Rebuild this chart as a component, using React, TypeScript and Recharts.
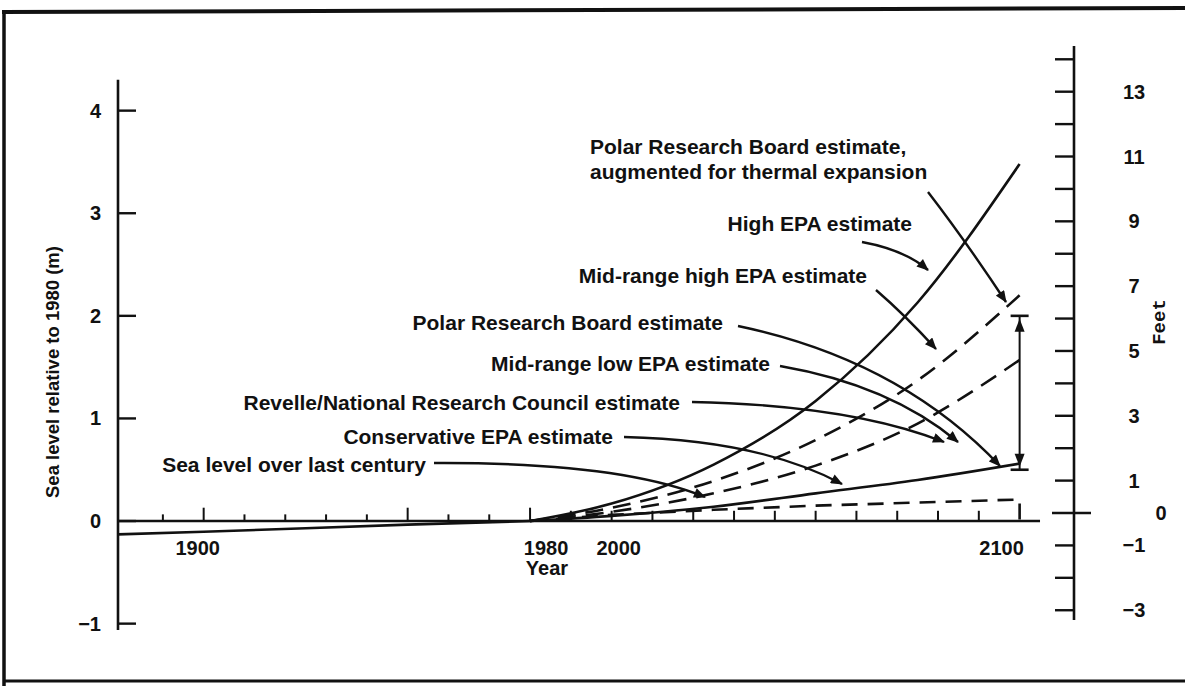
import { LineChart, Line, XAxis, YAxis, ReferenceLine } from "recharts";

// projections of sea level rise relative to 1980 (m)
const years = [1980, 2000, 2025, 2050, 2075, 2100];
const highEPA = [0, 0.17, 0.55, 1.17, 2.13, 3.48];
const midHighEPA = [0, 0.13, 0.39, 0.79, 1.37, 2.2];
const midLowEPA = [0, 0.09, 0.27, 0.54, 0.95, 1.57];
const conservativeEPA = [0, 0.05, 0.14, 0.27, 0.4, 0.56];

// historical trend carried forward (drops back to the axis at 2100)
const trendYears = [1980, 2000, 2025, 2050, 2075, 2100, 2100];
const trendLevel = [0, 0.06, 0.11, 0.15, 0.18, 0.21, 0];

// sea level over the last century
const histYears = [1879, 1900, 1925, 1950, 1980];
const histLevel = [-0.13, -0.105, -0.07, -0.035, 0];

// Polar Research Board range at 2100
const prbYears = [2100, 2100];
const prbRange = [0.5, 2.0];

const meterTicks = [-1, 0, 1, 2, 3, 4];
const feetTicks = [-3, -2, -1, 0, 1, 2, 3, 4, 5, 6, 7, 8, 9, 10, 11, 12, 13, 14];
const feetLabels = [13, 11, 9, 7, 5, 3, 1, 0, -1, -3];
const decadeTicks = [1890, 1900, 1910, 1920, 1930, 1940, 1950, 1960, 1970, 1980, 1990, 2000, 2010, 2020, 2030, 2040, 2050, 2060, 2070, 2080, 2090];
const longTicks = [1900, 1950, 1980];
const yearLabels = [1900, 1980, 2000, 2100];

const X_MIN = 1879;
const X_MAX = 2113.33;
const M_DOMAIN = [-1.062, 4.63];
const FT_DOMAIN = [-3.61, 14.41];

const INK = "#111";
const FONT = "'Liberation Sans', Arial, sans-serif";
const labelShift: Record<number, number> = { 1900: -6, 1980: 16, 2000: 7, 2100: -18 };

const pts = (xs: number[], vs: number[]) => xs.map((x, i) => ({ year: x, v: vs[i] }));

const fmt = (v: number) => (v < 0 ? `\u2212${Math.abs(v)}` : String(v));

function MeterTick(p: any) {
  const { x, y, payload } = p;
  return (
    <g>
      <line x1={x} x2={x + 18} y1={y} y2={y} stroke={INK} strokeWidth={2.4} />
      <text x={x - 17} y={y} textAnchor="end" dominantBaseline="central" fontFamily={FONT} fontWeight={700} fontSize={20} fill={INK}>
        {fmt(payload.value)}
      </text>
    </g>
  );
}

function FeetTick(p: any) {
  const { x, y, payload } = p;
  const v = payload.value;
  const zero = v === 0;
  return (
    <g>
      <line x1={zero ? x - 22 : x - 19} x2={zero ? x + 17 : x} y1={y} y2={y} stroke={INK} strokeWidth={2.4} />
      {feetLabels.includes(v) && (
        <text x={zero ? x + 87 : x + 60} y={y} textAnchor="middle" dominantBaseline="central" fontFamily={FONT} fontWeight={700} fontSize={20} fill={INK}>
          {fmt(v)}
        </text>
      )}
    </g>
  );
}

function RangeDot(p: any) {
  const { cx, cy, index } = p;
  const dir = index === 0 ? 1 : -1;
  const tip = cy - 3 * dir;
  const base = cy - 16 * dir;
  return (
    <g key={`rd-${index}`}>
      <line x1={cx - 9} x2={cx + 9} y1={cy} y2={cy} stroke={INK} strokeWidth={2.6} />
      <path d={`M${cx},${tip} L${cx - 5},${base} L${cx + 5},${base} Z`} fill={INK} />
    </g>
  );
}

const yearLabel = (yr: number) => (props: any) => {
  const vb = props.viewBox || {};
  const x = (vb.x ?? 0) + (labelShift[yr] || 0);
  const y = (vb.y ?? 0) + (vb.height ?? 0) + 27;
  return (
    <text x={x} y={y} textAnchor="middle" dominantBaseline="central" fontFamily={FONT} fontWeight={700} fontSize={20} fill={INK}>
      {yr}
    </text>
  );
};

// annotation labels and their pointer arrows (page pixels)
const notes = [
  { text: "Polar Research Board estimate,", x: 590, y: 146, anchor: "start" },
  { text: "augmented for thermal expansion", x: 590, y: 171, anchor: "start" },
  { text: "High EPA estimate", x: 912, y: 223, anchor: "end" },
  { text: "Mid-range high EPA estimate", x: 867, y: 275, anchor: "end" },
  { text: "Polar Research Board estimate", x: 723, y: 322, anchor: "end" },
  { text: "Mid-range low EPA estimate", x: 770, y: 363, anchor: "end" },
  { text: "Revelle/National Research Council estimate", x: 680, y: 402, anchor: "end" },
  { text: "Conservative EPA estimate", x: 613, y: 436, anchor: "end" },
  { text: "Sea level over last century", x: 426, y: 464, anchor: "end" },
];

const arrows = [
  "M928,192 Q965,240 1006,302",
  "M862,242 Q905,250 928,270",
  "M876,290 Q905,315 936,349",
  "M738,326 Q900,360 1000,466",
  "M780,366 Q890,385 958,442",
  "M692,402 Q850,405 944,442",
  "M624,437 Q760,440 842,484",
  "M434,463 Q620,462 705,497",
];

export default function App() {
  const solid = { stroke: INK, strokeWidth: 2.6, dot: false, isAnimationActive: false, yAxisId: "m", dataKey: "v", type: "monotone" as const };
  return (
    <div style={{ position: "absolute", left: 0, top: 0, width: 1185, height: 686, background: "#fff" }}>
      <LineChart width={1185} height={686} margin={{ top: 46, right: 21, bottom: 56, left: 58 }}>
        <XAxis type="number" dataKey="year" domain={[X_MIN, X_MAX]} allowDataOverflow hide />
        <YAxis
          yAxisId="m"
          orientation="left"
          type="number"
          width={60}
          domain={M_DOMAIN}
          ticks={meterTicks}
          interval={0}
          allowDataOverflow
          axisLine={false}
          tickLine={false}
          tickSize={0}
          tickMargin={0}
          tick={MeterTick}
        />
        <YAxis
          yAxisId="ft"
          orientation="right"
          type="number"
          width={90}
          domain={FT_DOMAIN}
          ticks={feetTicks}
          interval={0}
          allowDataOverflow
          axisLine={false}
          tickLine={false}
          tickSize={0}
          tickMargin={0}
          tick={FeetTick}
        />

        {/* axis lines */}
        <ReferenceLine yAxisId="m" segment={[{ x: X_MIN, y: M_DOMAIN[0] }, { x: X_MIN, y: 4.3 }]} stroke={INK} strokeWidth={2.6} />
        <ReferenceLine yAxisId="ft" segment={[{ x: X_MAX, y: -3.3 }, { x: X_MAX, y: FT_DOMAIN[1] }]} stroke={INK} strokeWidth={2.6} />
        <ReferenceLine yAxisId="m" segment={[{ x: X_MIN, y: 0 }, { x: 2105, y: 0 }]} stroke={INK} strokeWidth={2.6} />
        {decadeTicks.map((yr) => (
          <ReferenceLine
            key={`t${yr}`}
            yAxisId="m"
            segment={[{ x: yr, y: 0 }, { x: yr, y: longTicks.includes(yr) ? 0.13 : yr > 1980 ? 0.1 : 0.065 }]}
            stroke={INK}
            strokeWidth={2}
          />
        ))}
        {yearLabels.map((yr) => (
          <ReferenceLine
            key={`l${yr}`}
            yAxisId="m"
            segment={[{ x: yr, y: 0 }, { x: yr, y: 0.001 }]}
            stroke="none"
            label={yearLabel(yr)}
          />
        ))}

        <Line {...solid} data={pts(histYears, histLevel)} type="linear" />
        <Line {...solid} data={pts(trendYears, trendLevel)} type="linear" strokeDasharray="16 10" />
        <Line {...solid} data={pts(years, conservativeEPA)} />
        <Line {...solid} data={pts(years, midLowEPA)} strokeDasharray="18 10" />
        <Line {...solid} data={pts(years, midHighEPA)} strokeDasharray="18 10" />
        <Line {...solid} data={pts(years, highEPA)} />
        <Line {...solid} data={pts(prbYears, prbRange)} type="linear" strokeWidth={2} dot={RangeDot} />
      </LineChart>

      <svg width={1185} height={686} style={{ position: "absolute", left: 0, top: 0, pointerEvents: "none" }}>
        <defs>
          <marker id="ah" viewBox="0 0 12 10" refX="11" refY="5" markerWidth="13" markerHeight="10" markerUnits="userSpaceOnUse" orient="auto">
            <path d="M0,0 L12,5 L0,10 z" fill={INK} />
          </marker>
        </defs>
        {/* frame */}
        <line x1={4} y1={10} x2={4} y2={686} stroke={INK} strokeWidth={3.5} />
        <line x1={2} y1={12} x2={1185} y2={8} stroke={INK} strokeWidth={4} />
        <line x1={4} y1={681} x2={1185} y2={681} stroke={INK} strokeWidth={3} />

        <text transform="translate(52,372) rotate(-90)" textAnchor="middle" dominantBaseline="central" fontFamily={FONT} fontWeight={700} fontSize={18.5} fill={INK}>
          Sea level relative to 1980 (m)
        </text>
        <text transform="translate(1160,322) rotate(-90)" textAnchor="middle" dominantBaseline="central" fontFamily="'Liberation Mono', monospace" fontWeight={700} fontSize={19} fill={INK}>
          Feet
        </text>
        <text x={547} y={568} textAnchor="middle" dominantBaseline="central" fontFamily={FONT} fontWeight={700} fontSize={20} fill={INK}>
          Year
        </text>

        {notes.map((n) => (
          <text key={n.text} x={n.x} y={n.y} textAnchor={n.anchor as any} dominantBaseline="central" fontFamily={FONT} fontWeight={700} fontSize={21} fill={INK}>
            {n.text}
          </text>
        ))}
        {arrows.map((d, i) => (
          <path key={i} d={d} fill="none" stroke={INK} strokeWidth={2.4} markerEnd="url(#ah)" />
        ))}
      </svg>
    </div>
  );
}
